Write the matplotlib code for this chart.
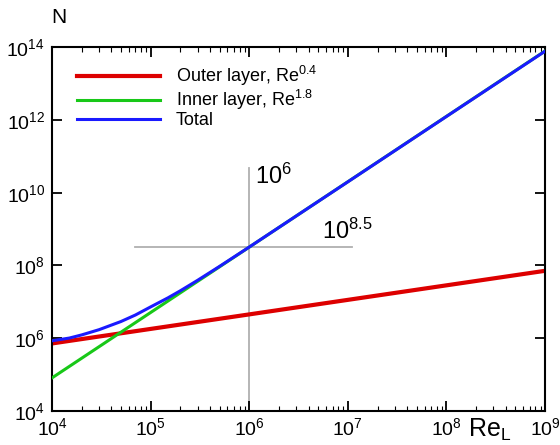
import matplotlib
matplotlib.use("Agg")
import matplotlib.pyplot as plt
from matplotlib.ticker import LogLocator, NullLocator, NullFormatter

plt.rcParams['font.family'] = ['Liberation Sans', 'DejaVu Sans']
plt.rcParams['mathtext.fontset'] = 'custom'
plt.rcParams['mathtext.rm'] = 'Liberation Sans'
plt.rcParams['mathtext.it'] = 'Liberation Sans:italic'

# Data
re_outer = [1e4, 1e9]
n_outer = [7.1e5, 7.1e7]

re_inner = [1e4, 1e9]
n_inner = [8.0e4, 8.0e13]

re_total = [1e4, 1.5e4, 2e4, 3e4, 5e4, 7e4, 1e5, 1.5e5, 2e5, 3e5, 5e5,
            1e6, 1e7, 1e8, 1e9]
n_total = [8.4e5, 1.0e6, 1.22e6, 1.7e6, 2.85e6, 4.3e6, 7.2e6, 1.28e7,
           2.0e7, 3.9e7, 9.4e7, 3.2e8, 2.0e10, 1.26e12, 7.9e13]

# Crosshair marks
vline_x = [1e6, 1e6]
vline_y = [1e4, 4.8e10]
hline_x = [7e4, 1.1e7]
hline_y = [3.2e8, 3.2e8]

labels = ["Outer layer, Re$^{0.4}$", "Inner layer, Re$^{1.8}$", "Total"]

fig = plt.figure(figsize=(5.6, 4.45), dpi=100)
ax = fig.add_axes([0.0929, 0.0771, 0.8804, 0.8162])

ax.plot(vline_x, vline_y, color='#b0b0b0', lw=1.3, zorder=1)
ax.plot(hline_x, hline_y, color='#b0b0b0', lw=1.3, zorder=1)

ax.plot(re_outer, n_outer, color='#dd0000', lw=3.0, label=labels[0], zorder=2)
ax.plot(re_inner, n_inner, color='#18c818', lw=2.2, label=labels[1], zorder=3)
ax.plot(re_total, n_total, color='#1a1aff', lw=2.2, label=labels[2], zorder=4)

ax.set_xscale('log')
ax.set_yscale('log')
ax.set_xlim(1e4, 1e9)
ax.set_ylim(1e4, 1e14)

ax.xaxis.set_major_locator(LogLocator(base=10, numticks=20))
ax.xaxis.set_minor_locator(LogLocator(base=10, subs=range(2, 10), numticks=50))
ax.xaxis.set_minor_formatter(NullFormatter())
ax.set_yticks([1e4, 1e6, 1e8, 1e10, 1e12, 1e14])
ax.yaxis.set_minor_locator(NullLocator())

ax.tick_params(which='both', direction='in', top=True, right=True, labelsize=14)
ax.tick_params(which='major', length=7, width=1.3)
ax.tick_params(which='minor', length=3.5, width=0.8)
ax.tick_params(axis='x', pad=5)
ax.tick_params(axis='y', pad=5)
for s in ax.spines.values():
    s.set_linewidth(1.5)

ax.text(1.15e6, 6.5e10, "10$^{6}$", fontsize=17, va='top', ha='left')
ax.text(5.5e6, 4.0e8, "10$^{8.5}$", fontsize=17, va='bottom', ha='left')

fig.text(0.092, 0.96, "N", fontsize=15, ha='left', va='center')
fig.text(0.835, 0.035, "Re$_{\\mathrm{L}}$", fontsize=18, ha='left', va='center')

ax.legend(loc='upper left', bbox_to_anchor=(0.0365, 0.975), frameon=False,
          fontsize=13, handlelength=4.6, handletextpad=0.85, labelspacing=0.0,
          borderaxespad=0.0)

fig.savefig("out.png", dpi=100)
